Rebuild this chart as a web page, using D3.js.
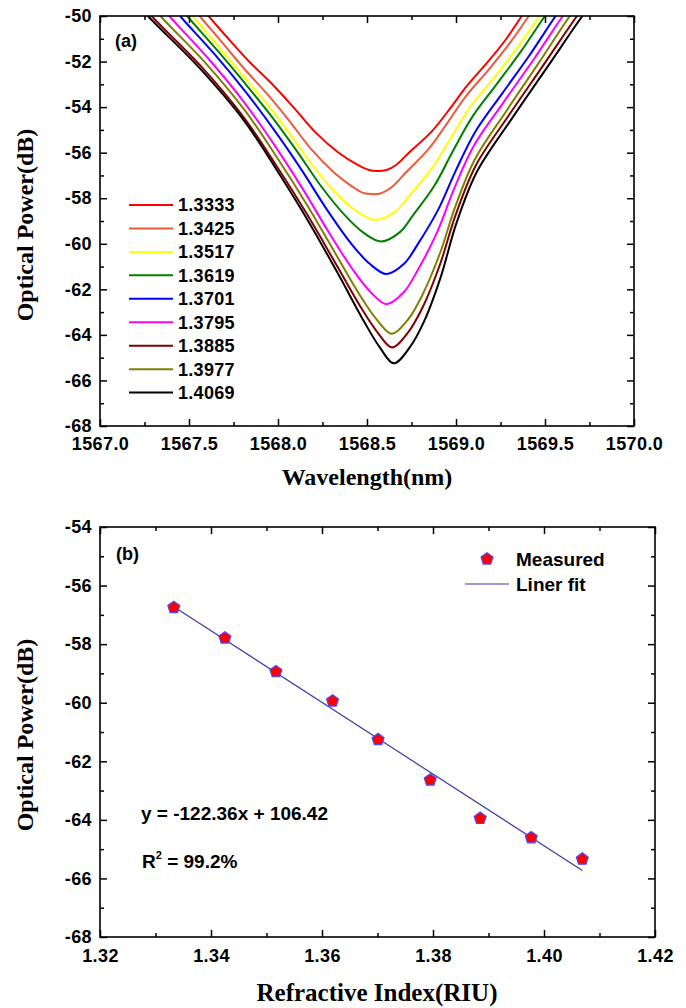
<!DOCTYPE html>
<html><head><meta charset="utf-8">
<script src="https://cdn.jsdelivr.net/npm/d3@7"></script>
<style>body{margin:0;background:#fff}svg{display:block}</style>
</head><body>
<svg id="c" width="686" height="1008"></svg>
<script>
// ---------- data ----------
const riLabels = ["1.3333","1.3425","1.3517","1.3619","1.3701","1.3795","1.3885","1.3977","1.4069"];
const lineColors = ["#ff0000","#ef5a3c","#ffff00","#008000","#0000ff","#ff00ff","#800000","#808000","#000000"];

const spec13333 = [[1567.57,-49.6],[1567.61,-50],[1567.724,-51.02],[1567.843,-52.04],[1567.976,-53.06],[1568.095,-54.08],[1568.209,-55.1],[1568.337,-55.98],[1568.446,-56.53],[1568.51,-56.76],[1568.56,-56.8],[1568.61,-56.76],[1568.665,-56.53],[1568.738,-55.98],[1568.86,-55.1],[1568.965,-54.08],[1569.062,-53.06],[1569.176,-52.04],[1569.281,-51.02],[1569.37,-50],[1569.41,-49.6]];
const spec13425 = [[1567.52,-49.6],[1567.56,-50],[1567.687,-51.17],[1567.814,-52.35],[1567.95,-53.52],[1568.072,-54.69],[1568.189,-55.87],[1568.316,-56.88],[1568.421,-57.51],[1568.48,-57.77],[1568.53,-57.82],[1568.58,-57.78],[1568.639,-57.51],[1568.717,-56.88],[1568.843,-55.87],[1568.952,-54.69],[1569.056,-53.52],[1569.184,-52.35],[1569.304,-51.17],[1569.41,-50],[1569.45,-49.6]];
const spec13517 = [[1567.48,-49.6],[1567.52,-50],[1567.667,-51.34],[1567.811,-52.69],[1567.956,-54.03],[1568.085,-55.37],[1568.209,-56.71],[1568.339,-57.88],[1568.445,-58.59],[1568.55,-58.95],[1568.658,-58.59],[1568.738,-57.88],[1568.862,-56.71],[1568.97,-55.37],[1569.077,-54.03],[1569.216,-52.69],[1569.349,-51.34],[1569.47,-50],[1569.51,-49.6]];
const spec13619 = [[1567.45,-49.6],[1567.49,-50],[1567.657,-51.49],[1567.816,-52.97],[1567.969,-54.46],[1568.107,-55.94],[1568.238,-57.43],[1568.371,-58.71],[1568.478,-59.5],[1568.58,-59.9],[1568.683,-59.5],[1568.762,-58.71],[1568.88,-57.43],[1568.982,-55.94],[1569.089,-54.46],[1569.231,-52.97],[1569.371,-51.49],[1569.5,-50],[1569.54,-49.6]];
const spec13701 = [[1567.41,-49.6],[1567.45,-50],[1567.646,-51.7],[1567.825,-53.4],[1567.987,-55.1],[1568.136,-56.8],[1568.275,-58.5],[1568.409,-59.97],[1568.515,-60.88],[1568.61,-61.33],[1568.708,-60.88],[1568.789,-59.97],[1568.9,-58.5],[1568.998,-56.8],[1569.107,-55.1],[1569.26,-53.4],[1569.415,-51.7],[1569.56,-50],[1569.6,-49.6]];
const spec13795 = [[1567.35,-49.6],[1567.39,-50],[1567.612,-51.9],[1567.811,-53.8],[1567.982,-55.69],[1568.139,-57.59],[1568.285,-59.49],[1568.42,-61.13],[1568.522,-62.14],[1568.61,-62.65],[1568.705,-62.14],[1568.787,-61.13],[1568.894,-59.49],[1568.989,-57.59],[1569.101,-55.69],[1569.266,-53.8],[1569.437,-51.9],[1569.6,-50],[1569.64,-49.6]];
const spec13885 = [[1567.25,-49.6],[1567.29,-50],[1567.564,-52.18],[1567.8,-54.37],[1567.989,-56.55],[1568.165,-58.73],[1568.327,-60.91],[1568.466,-62.8],[1568.56,-63.9],[1568.64,-64.55],[1568.73,-63.9],[1568.812,-62.8],[1568.91,-60.91],[1568.998,-58.73],[1569.112,-56.55],[1569.296,-54.37],[1569.489,-52.18],[1569.68,-50],[1569.72,-49.6]];
const spec13977 = [[1567.3,-49.6],[1567.34,-50],[1567.596,-52.09],[1567.818,-54.19],[1568.0,-56.28],[1568.169,-58.37],[1568.325,-60.46],[1568.462,-62.28],[1568.555,-63.33],[1568.64,-63.95],[1568.73,-63.33],[1568.809,-62.28],[1568.908,-60.46],[1568.996,-58.37],[1569.107,-56.28],[1569.281,-54.19],[1569.462,-52.09],[1569.64,-50],[1569.68,-49.6]];
const spec14069 = [[1567.23,-49.6],[1567.27,-50],[1567.56,-52.29],[1567.808,-54.58],[1568.001,-56.86],[1568.181,-59.15],[1568.346,-61.44],[1568.484,-63.42],[1568.572,-64.55],[1568.65,-65.25],[1568.74,-64.55],[1568.82,-63.42],[1568.915,-61.44],[1569.0,-59.15],[1569.116,-56.86],[1569.307,-54.58],[1569.509,-52.29],[1569.71,-50],[1569.75,-49.6]];
const spectra = [spec13333, spec13425, spec13517, spec13619, spec13701, spec13795, spec13885, spec13977, spec14069];

const wlMajor = [1567.0,1567.5,1568.0,1568.5,1569.0,1569.5,1570.0];
const wlMinor = [1567.25,1567.75,1568.25,1568.75,1569.25,1569.75];
const pTopMajor = [-68,-66,-64,-62,-60,-58,-56,-54,-52,-50];
const pTopMinor = [-67,-65,-63,-61,-59,-57,-55,-53,-51];

const riMeasured = [1.3333,1.3425,1.3517,1.3619,1.3701,1.3795,1.3885,1.3977,1.4069];
const powerMeasured = [-56.75,-57.79,-58.94,-59.94,-61.26,-62.64,-63.95,-64.61,-65.34];
const fitSlope = -122.36, fitIntercept = 106.42;
const riMajor = [1.32,1.34,1.36,1.38,1.40,1.42];
const riMinor = [1.33,1.35,1.37,1.39,1.41];
const pBotMajor = [-68,-66,-64,-62,-60,-58,-56,-54];
const pBotMinor = [-67,-65,-63,-61,-59,-57,-55];

// ---------- drawing ----------
const svg = d3.select("#c");
const SANS = "'Liberation Sans', Arial, sans-serif";
const SERIF = "'Liberation Serif', 'Times New Roman', serif";

function frameAxes(x, y, xMaj, xMin, yMaj, yMin, xFmt, yFmt, xPad) {
  const [x0, x1] = x.range(), [y1, y0] = y.range();
  const g = svg.append("g");
  const add = (axis, tr) => {
    const a = g.append("g").attr("transform", tr).call(axis);
    a.select(".domain").remove();
    a.selectAll("line").attr("stroke", "#000").attr("stroke-width", 1.5);
    a.selectAll("text").attr("font-family", SANS).attr("font-weight", "bold")
      .attr("font-size", 18).attr("fill", "#000").style("letter-spacing", "0.4px");
    return a;
  };
  add(d3.axisBottom(x).tickValues(xMaj).tickSize(-7).tickPadding(xPad).tickFormat(xFmt), `translate(0,${y1})`);
  add(d3.axisBottom(x).tickValues(xMin).tickSize(-4).tickFormat(""), `translate(0,${y1})`);
  add(d3.axisTop(x).tickValues(xMaj).tickSize(-7).tickFormat(""), `translate(0,${y0})`);
  add(d3.axisTop(x).tickValues(xMin).tickSize(-4).tickFormat(""), `translate(0,${y0})`);
  add(d3.axisLeft(y).tickValues(yMaj).tickSize(-7).tickPadding(8).tickFormat(yFmt), `translate(${x0},0)`);
  add(d3.axisLeft(y).tickValues(yMin).tickSize(-4).tickFormat(""), `translate(${x0},0)`);
  add(d3.axisRight(y).tickValues(yMaj).tickSize(-7).tickFormat(""), `translate(${x1},0)`);
  add(d3.axisRight(y).tickValues(yMin).tickSize(-4).tickFormat(""), `translate(${x1},0)`);
  g.append("rect").attr("x", x0).attr("y", y0).attr("width", x1 - x0).attr("height", y1 - y0)
    .attr("fill", "none").attr("stroke", "#000").attr("stroke-width", 1.6);
}

// ===== (a) =====
const xA = d3.scaleLinear().domain([1567, 1570]).range([100, 634]);
const yA = d3.scaleLinear().domain([-68, -50]).range([426, 16]);

svg.append("clipPath").attr("id", "clipA").append("rect")
  .attr("x", 100).attr("y", 16).attr("width", 534).attr("height", 410);

const lineA = d3.line().x(d => xA(d[0])).y(d => yA(d[1])).curve(d3.curveCatmullRom.alpha(0.5));
const gA = svg.append("g").attr("clip-path", "url(#clipA)");
spectra.forEach((s, i) => {
  gA.append("path").attr("d", lineA(s)).attr("fill", "none")
    .attr("stroke", lineColors[i]).attr("stroke-width", 2);
});

frameAxes(xA, yA, wlMajor, wlMinor, pTopMajor, pTopMinor, d3.format(".1f"), d => String(d), 11);

svg.append("text").attr("x", 115).attr("y", 47).text("(a)")
  .attr("font-family", SANS).attr("font-weight", "bold").attr("font-size", 18);

// legend (a)
const legA = svg.append("g");
riLabels.forEach((lab, i) => {
  const yy = 205 + i * 23.45;
  legA.append("line").attr("x1", 129).attr("x2", 173).attr("y1", yy).attr("y2", yy)
    .attr("stroke", lineColors[i]).attr("stroke-width", 2);
  legA.append("text").attr("x", 178).attr("y", yy).attr("dy", "0.36em").text(lab)
    .attr("font-family", SANS).attr("font-weight", "bold").attr("font-size", 18)
    .style("letter-spacing", "0.3px");
});

svg.append("text").attr("x", 367).attr("y", 485).attr("text-anchor", "middle")
  .text("Wavelength(nm)").attr("font-family", SERIF).attr("font-weight", "bold").attr("font-size", 24);
svg.append("text").attr("transform", "translate(33,225) rotate(-90)").attr("text-anchor", "middle")
  .text("Optical Power(dB)").attr("font-family", SERIF).attr("font-weight", "bold").attr("font-size", 24);

// ===== (b) =====
const xB = d3.scaleLinear().domain([1.32, 1.42]).range([100, 655]);
const yB = d3.scaleLinear().domain([-68, -54]).range([937, 527]);

const fitX = d3.extent(riMeasured);
svg.append("line")
  .attr("x1", xB(fitX[0])).attr("y1", yB(fitSlope * fitX[0] + fitIntercept))
  .attr("x2", xB(fitX[1])).attr("y2", yB(fitSlope * fitX[1] + fitIntercept))
  .attr("stroke", "#3a3aa6").attr("stroke-width", 1.2);

function pentagon(cx, cy, r) {
  const pts = d3.range(5).map(k => {
    const a = -Math.PI / 2 + k * 2 * Math.PI / 5;
    return [cx + r * Math.cos(a), cy + r * Math.sin(a)];
  });
  return d3.line()(pts) + "Z";
}
riMeasured.forEach((ri, i) => {
  svg.append("path").attr("d", pentagon(xB(ri), yB(powerMeasured[i]), 6.3))
    .attr("fill", "#ff0000").attr("stroke", "#4a4aff").attr("stroke-width", 1.2);
});

frameAxes(xB, yB, riMajor, riMinor, pBotMajor, pBotMinor, d3.format(".2f"), d => String(d), 12.5);

svg.append("text").attr("x", 116).attr("y", 560).text("(b)")
  .attr("font-family", SANS).attr("font-weight", "bold").attr("font-size", 18);

// legend (b)
svg.append("path").attr("d", pentagon(487, 559, 6.3))
  .attr("fill", "#ff0000").attr("stroke", "#4a4aff").attr("stroke-width", 1.2);
svg.append("text").attr("x", 516).attr("y", 566).text("Measured")
  .attr("font-family", SANS).attr("font-weight", "bold").attr("font-size", 19);
svg.append("line").attr("x1", 465).attr("x2", 509).attr("y1", 584).attr("y2", 584)
  .attr("stroke", "#3a3aa6").attr("stroke-width", 1.2);
svg.append("text").attr("x", 516).attr("y", 591).text("Liner fit")
  .attr("font-family", SANS).attr("font-weight", "bold").attr("font-size", 19);

// annotations
svg.append("text").attr("x", 141).attr("y", 820).text("y = -122.36x + 106.42")
  .attr("font-family", SANS).attr("font-weight", "bold").attr("font-size", 19);
const r2 = svg.append("text").attr("x", 142).attr("y", 868)
  .attr("font-family", SANS).attr("font-weight", "bold").attr("font-size", 19);
r2.append("tspan").text("R");
r2.append("tspan").text("2").attr("font-size", 11).attr("dy", -9);
r2.append("tspan").text(" = 99.2%").attr("dy", 9);

svg.append("text").attr("x", 377).attr("y", 1001).attr("text-anchor", "middle")
  .text("Refractive Index(RIU)").attr("font-family", SERIF).attr("font-weight", "bold").attr("font-size", 25);
svg.append("text").attr("transform", "translate(33,735) rotate(-90)").attr("text-anchor", "middle")
  .text("Optical Power(dB)").attr("font-family", SERIF).attr("font-weight", "bold").attr("font-size", 24);
</script>
</body></html>
